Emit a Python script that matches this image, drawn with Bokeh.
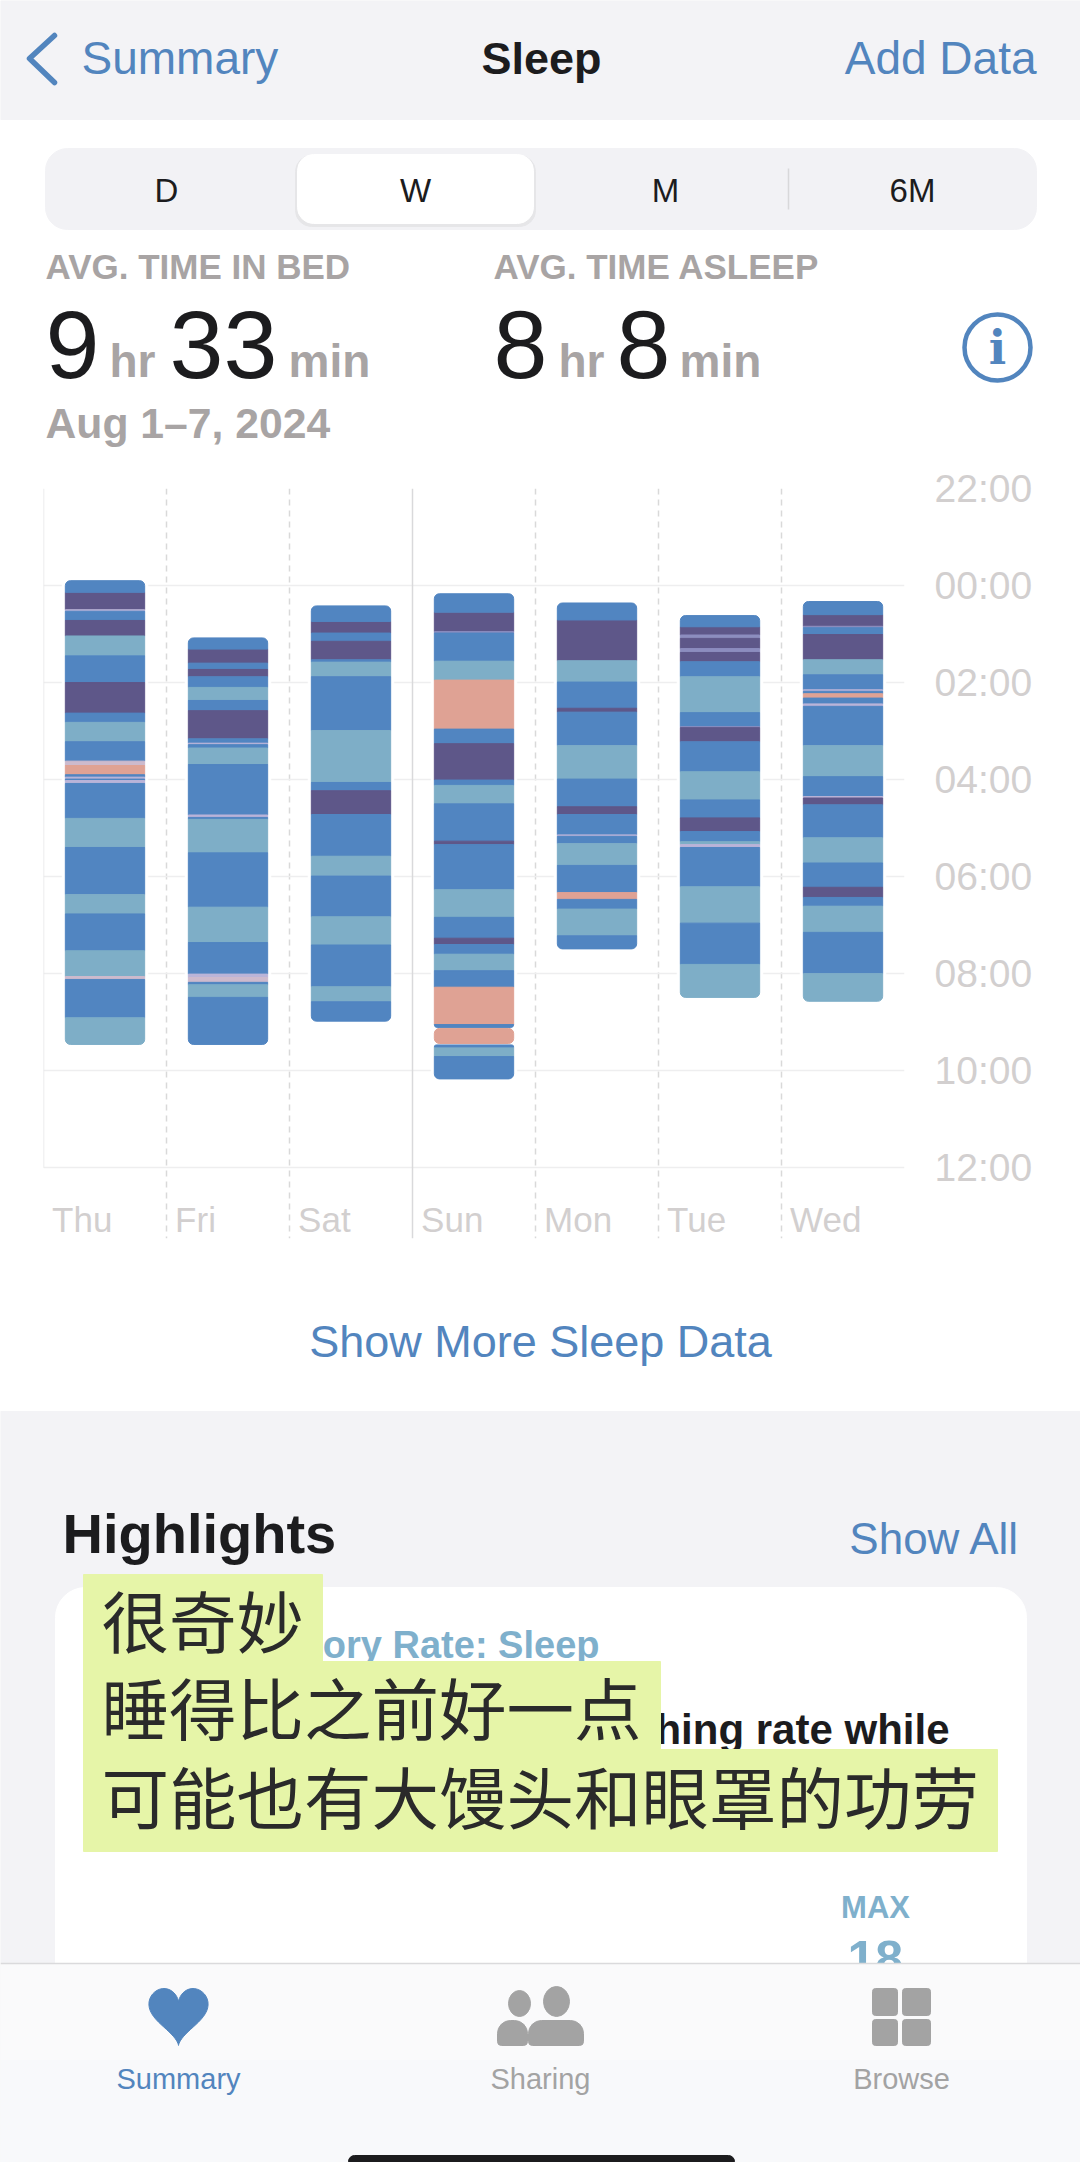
import numpy as np
from bokeh.core.properties import value
from bokeh.embed import file_html
from bokeh.layouts import column
from bokeh.models import ColumnDataSource, FixedTicker, Range1d, Span
from bokeh.plotting import figure
from bokeh.resources import INLINE

days = ["Thu", "Fri", "Sat", "Sun", "Mon", "Tue", "Wed"]
hour_ticks = [-2, 0, 2, 4, 6, 8, 10, 12]
hour_labels = ["22:00", "00:00", "02:00", "04:00", "06:00", "08:00", "10:00", "12:00"]

# sleep stages per night, edges are hours after midnight (one more edge than stages)
thu_stages = ["core", "deep", "trace", "core", "deep", "rem", "core", "deep", "core", "rem", "core", "mix", "awake",
              "core", "trace", "core", "trace", "core", "rem", "core", "rem", "core", "rem", "mix", "core", "rem"]
thu_edges = [-0.10, 0.14, 0.50, 0.53, 0.72, 1.04, 1.45, 2.00, 2.63, 2.82, 3.22, 3.62, 3.71, 3.90,
             3.95, 3.99, 4.02, 4.08, 4.80, 5.40, 6.37, 6.77, 7.53, 8.06, 8.12, 8.91, 9.46]

fri_stages = ["core", "deep", "core", "deep", "core", "rem", "core", "deep", "core", "trace", "core", "rem", "core",
              "trace", "core", "rem", "core", "rem", "core", "trace", "mix", "core", "rem", "core"]
fri_edges = [1.08, 1.31, 1.60, 1.73, 1.88, 2.10, 2.37, 2.58, 3.16, 3.25, 3.28, 3.35, 3.69, 4.73,
             4.78, 4.82, 5.51, 6.63, 7.36, 8.01, 8.08, 8.18, 8.23, 8.49, 9.46]

sat_stages = ["core", "deep", "core", "deep", "core", "rem", "core", "rem", "core", "deep", "core", "rem", "core",
              "rem", "core", "rem", "core"]
sat_edges = [0.42, 0.74, 0.98, 1.15, 1.53, 1.58, 1.88, 2.99, 4.06, 4.23, 4.72, 5.58, 5.99, 6.83, 7.41, 8.27, 8.58, 8.98]

sun_stages = ["core", "deep", "blur", "core", "rem", "awake", "core", "deep", "core", "rem", "core", "deep", "core",
              "rem", "core", "deep", "core", "rem", "core", "awake", "core", "gap", "awake", "gap", "core", "rem", "core"]
sun_edges = [0.17, 0.55, 0.95, 0.98, 1.56, 1.95, 2.96, 3.26, 4.01, 4.12, 4.50, 5.27, 5.34, 6.27, 6.84, 7.27, 7.40,
             7.60, 7.94, 8.28, 9.05, 9.11, 9.13, 9.44, 9.47, 9.51, 9.71, 10.17]

mon_stages = ["core", "deep", "rem", "core", "deep", "core", "rem", "core", "deep", "core", "trace", "core", "rem",
              "core", "awake", "core", "rem", "core"]
mon_edges = [0.36, 0.71, 1.55, 1.99, 2.53, 2.61, 3.30, 3.99, 4.56, 4.72, 5.14, 5.17, 5.32, 5.77, 6.33, 6.47, 6.67,
             7.22, 7.49]

tue_stages = ["core", "deep", "blur", "deep", "blur", "deep", "core", "rem", "core", "blur", "deep", "core", "rem",
              "core", "deep", "core", "rem", "trace", "core", "rem", "core", "rem"]
tue_edges = [0.62, 0.85, 1.02, 1.09, 1.30, 1.38, 1.57, 1.88, 2.62, 2.91, 2.93, 3.22, 3.84, 4.42, 4.79, 5.07, 5.28,
             5.34, 5.40, 6.21, 6.96, 7.81, 8.49]

wed_stages = ["core", "deep", "blur", "core", "deep", "rem", "core", "trace", "core", "awake", "core", "trace", "core",
              "rem", "core", "trace", "deep", "core", "rem", "core", "deep", "core", "rem", "core", "rem"]
wed_edges = [0.33, 0.60, 0.84, 0.87, 1.01, 1.53, 1.84, 2.15, 2.18, 2.23, 2.32, 2.44, 2.49, 3.30, 3.94, 4.35, 4.38,
             4.52, 5.20, 5.72, 6.22, 6.43, 6.61, 7.15, 8.00, 8.57]

nights = [(thu_stages, thu_edges), (fri_stages, fri_edges), (sat_stages, sat_edges), (sun_stages, sun_edges),
          (mon_stages, mon_edges), (tue_stages, tue_edges), (wed_stages, wed_edges)]

stage_colors = {"core": "#5185C1", "deep": "#5E5789", "rem": "#7EAEC7", "awake": "#DFA294",
                "trace": "#BAB4D8", "blur": "#8C8DBF", "mix": "#CDBACD"}

BLUE = "#5285BE"
INK = "#1C1C1E"
GREY = "#A8A4A4"
PALE = "#D2CFCF"
PAGE = "#F3F3F6"
SANS = "Liberation Sans"
CJK = "Noto Sans CJK SC"


def canvas(top, bottom):
    # a figure whose data units are simply page pixels
    f = figure(width=1080, height=bottom - top, x_range=Range1d(0, 1080), y_range=Range1d(bottom, top),
               output_backend="svg", toolbar_location=None, x_axis_location=None, y_axis_location=None,
               min_border=0, outline_line_color=None, frame_align=False)
    f.grid.visible = False
    return f


def text(f, x, y, s, size, color=INK, align="left", style="normal", font=SANS):
    # y is the baseline; the bottom edge of the line box sits about a fifth of the size below it
    f.text(x=[x], y=[y + 0.21 * size], text=[s], text_font=value(font), text_font_size=f"{size}px", text_color=color,
           text_align=align, text_font_style=style, text_baseline="bottom")


def digits(f, x, y, s, size, color=INK, style="normal"):
    # digits only have no descent, so their box bottom is the baseline
    f.text(x=[x], y=[y], text=[s], text_font=value(SANS), text_font_size=f"{size}px", text_color=color,
           text_font_style=style, text_baseline="bottom")


def cjk(f, x, y, s):
    f.text(x=[x], y=[y], text=[s], text_font=value(CJK), text_font_size="67.5px", text_color="#2A2A2A",
           text_baseline="middle")


# ---- header
head = canvas(0, 460)
head.quad(left=0, right=1080, top=0, bottom=119, color=PAGE)
head.line([54, 29, 54], [35, 58, 82], line_color=BLUE, line_width=5.5, line_cap="round", line_join="round")
text(head, 81, 74, "Summary", 46, BLUE)
text(head, 541, 74, "Sleep", 45, INK, "center", "bold")
text(head, 1036, 74, "Add Data", 46, BLUE, "right")

head.quad(left=45, right=1036, top=148, bottom=229, color="#F2F2F5", border_radius=22)
head.quad(left=295, right=535, top=155, bottom=226, color="#E6E6E8", border_radius=16)
head.quad(left=297, right=533, top=154, bottom=223, color="white", border_radius=16)
head.line([788, 788], [168, 209], line_color="#D8D8DA", line_width=1.5)
for x, s in zip([166, 415, 665, 912], ["D", "W", "M", "6M"]):
    text(head, x, 202, s, 33, INK, "center")

text(head, 45, 278, "AVG. TIME IN BED", 35, GREY, style="bold")
text(head, 493, 278, "AVG. TIME ASLEEP", 35, GREY, style="bold")
digits(head, 45, 377, "9", 97)
text(head, 109, 377, "hr", 46, GREY, style="bold")
digits(head, 169, 377, "33", 97)
text(head, 288, 377, "min", 46, GREY, style="bold")
digits(head, 493, 377, "8", 97)
text(head, 558, 377, "hr", 46, GREY, style="bold")
digits(head, 616, 377, "8", 97)
text(head, 679, 377, "min", 46, GREY, style="bold")
head.scatter([997], [347], size=66, marker="circle", fill_color=None, line_color=BLUE, line_width=4.5)
text(head, 997, 365, "i", 46, BLUE, "center", "bold", "DejaVu Serif")
text(head, 45, 438, "Aug 1–7, 2024", 42.7, GREY, style="bold")

# ---- chart: x is the day index, y is hours after midnight
chart = figure(width=1080, height=780, x_range=Range1d(0, 7), y_range=Range1d(13.46, -2),
               output_backend="svg", toolbar_location=None, x_axis_location=None, y_axis_location="right",
               min_border_left=43, min_border_right=176, min_border_top=28, min_border_bottom=2,
               outline_line_color=None, frame_align=False)
chart.yaxis.ticker = FixedTicker(ticks=hour_ticks)
chart.yaxis.major_label_overrides = dict(zip(hour_ticks, hour_labels))
chart.yaxis.major_label_text_font = SANS
chart.yaxis.major_label_text_font_size = "39px"
chart.yaxis.major_label_text_color = PALE
chart.yaxis.major_label_standoff = 24
chart.yaxis.axis_line_color = None
chart.yaxis.major_tick_line_color = None
chart.yaxis.minor_tick_line_color = None
chart.ygrid.ticker = FixedTicker(ticks=hour_ticks)
chart.ygrid.grid_line_color = "#EEEEEF"
chart.ygrid.grid_line_width = 1.5
chart.xgrid.ticker = FixedTicker(ticks=[1, 2, 4, 5, 6, 7])
chart.xgrid.grid_line_color = "#D9D9D9"
chart.xgrid.grid_line_width = 1.5
chart.xgrid.grid_line_dash = [6, 5]
chart.add_layout(Span(location=3, dimension="height", line_color="#D9D9DB", line_width=1.5, level="underlay"))
chart.segment(x0=[0], x1=[0], y0=[-2], y1=[12], line_color="#E6E6E7", line_width=1.5)

# white halo that cuts the grid lines beside each bar
chart.vbar(x=[i + 0.5 for i in range(7)], width=0.695, top=[e[0] for s, e in nights], bottom=[e[-1] for s, e in nights],
           color="white")

pieces = {(False, False): [], (True, False): [], (False, True): [], (True, True): []}
for i, (stages, edges) in enumerate(nights):
    for j, stage in enumerate(stages):
        if stage == "gap":
            continue
        first = j == 0 or stages[j - 1] == "gap"
        last = j == len(stages) - 1 or stages[j + 1] == "gap"
        pieces[(first, last)].append((i + 0.5, edges[j], edges[j + 1], stage_colors[stage]))

for (first, last), rows in pieces.items():
    source = ColumnDataSource(data=dict(x=[r[0] for r in rows], top=[r[1] for r in rows],
                                        bottom=[r[2] for r in rows], color=[r[3] for r in rows]))
    radius = (5 if first else 0, 5 if first else 0, 5 if last else 0, 5 if last else 0)
    chart.vbar(x="x", top="top", bottom="bottom", width=0.645, color="color", source=source, border_radius=radius)

chart.text(x=[i + 0.07 for i in range(7)], y=[13.06] * 7, text=days, text_font=value(SANS), text_font_size="35px",
           text_color=PALE, text_baseline="middle")

# ---- below the chart
foot = canvas(1240, 2162)
text(foot, 540, 1357, "Show More Sleep Data", 45, BLUE, "center")
foot.quad(left=0, right=1080, top=1411, bottom=2162, color=PAGE)
text(foot, 62, 1553, "Highlights", 56, INK, style="bold")
text(foot, 1020, 1553, "Show All", 44, BLUE, "right")
foot.quad(left=55, right=1026, top=1587, bottom=2100, color="white", border_radius=30)
text(foot, 599, 1658, "ory Rate: Sleep", 38, "#7FB0CC", "right", "bold")
text(foot, 949, 1744, "hing rate while", 42, INK, "right", "bold")
text(foot, 875, 1918, "MAX", 31, "#7FB0CC", "center", "bold")
digits(foot, 847, 1975, "18", 50, "#7FB0CC", "bold")

foot.quad(left=83, right=322, top=1574, bottom=1662, color="#E6F5A8")
foot.quad(left=83, right=660, top=1661, bottom=1750, color="#E6F5A8")
foot.quad(left=83, right=997, top=1749, bottom=1851, color="#E6F5A8")
cjk(foot, 101, 1618, "很奇妙")
cjk(foot, 101, 1705, "睡得比之前好一点")
cjk(foot, 101, 1794, "可能也有大馒头和眼罩的功劳")

foot.quad(left=0, right=1080, top=1963, bottom=2060, color="#FAFAFB")
foot.quad(left=0, right=1080, top=2060, bottom=2162, color="#F8F9FB")
foot.line([0, 1080], [1963, 1963], line_color="#DADADC", line_width=1.5)

t = np.linspace(0, 2 * np.pi, 80)
foot.patch(178 + 1.85 * 16 * np.sin(t) ** 3,
           2011.5 - 1.97 * (13 * np.cos(t) - 5 * np.cos(2 * t) - 2 * np.cos(3 * t) - np.cos(4 * t)), color=BLUE)
foot.ellipse([519, 556], [2003, 2001], width=[22, 26], height=[26, 30], color="#A3A3A3")
foot.quad(left=[497, 528], right=[527, 583], top=[2020, 2020], bottom=[2045, 2045], color="#A3A3A3",
          border_radius=(13, 13, 4, 4))
foot.quad(left=[872, 902, 872, 902], right=[897, 930, 897, 930], top=[1988, 1988, 2019, 2019],
          bottom=[2015, 2015, 2045, 2045], color="#A3A3A3", border_radius=3)
text(foot, 178, 2088, "Summary", 29, BLUE, "center")
text(foot, 540, 2088, "Sharing", 29, "#A3A3A3", "center")
text(foot, 901, 2088, "Browse", 29, "#A3A3A3", "center")
foot.quad(left=348, right=734, top=2155, bottom=2170, color=INK, border_radius=6)

page = column(head, chart, foot, spacing=0)
open("out.html", "w").write(file_html(page, INLINE))
